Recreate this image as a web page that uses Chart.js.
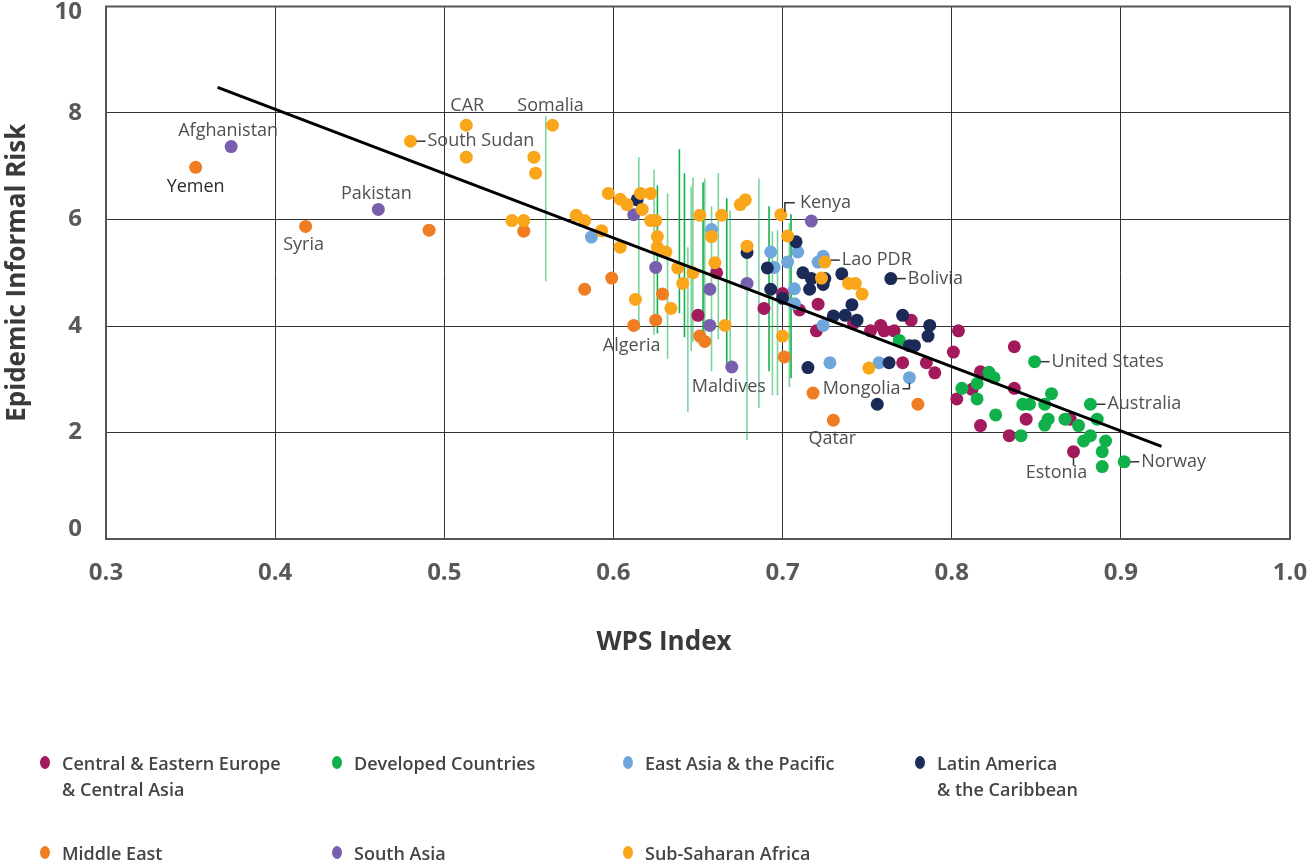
<!DOCTYPE html>
<html><head><meta charset="utf-8">
<script src="https://cdn.jsdelivr.net/npm/chart.js@4/dist/chart.umd.min.js"></script>
<style>
html,body{margin:0;padding:0;background:#fff;}
#wrap{position:relative;width:1309px;height:865px;overflow:hidden;}
#legend .item{position:absolute;font-family:'Open Sans',sans-serif;font-weight:600;font-size:18px;color:#444;line-height:26px;white-space:nowrap;}
#legend .dot{position:absolute;left:-22px;top:6px;width:10px;height:13px;border-radius:50%;}
</style></head><body>
<div id="wrap"><canvas id="c" width="1309" height="865"></canvas><div id="legend"></div></div>
<script>
// ---------- DATA ----------
const groupNames = ['Central & Eastern Europe\n& Central Asia','Developed Countries','East Asia & the Pacific','Latin America\n& the Caribbean','Middle East','South Asia','Sub-Saharan Africa'];

const centralEasternEurope = [[0.661,5.00],[0.650,4.20],[0.689,4.33],[0.700,4.61],[0.710,4.30],[0.721,4.41],[0.720,3.91],[0.742,4.05],[0.752,3.91],[0.758,4.01],[0.760,3.91],[0.766,3.91],[0.776,4.11],[0.771,3.31],[0.785,3.31],[0.790,3.12],[0.801,3.51],[0.804,3.91],[0.837,3.61],[0.817,3.14],[0.812,2.81],[0.803,2.63],[0.837,2.83],[0.817,2.13],[0.844,2.25],[0.834,1.94],[0.872,1.64],[0.870,2.25]];
const developedCountries = [[0.769,3.73],[0.849,3.33],[0.822,3.13],[0.825,3.03],[0.815,2.92],[0.806,2.83],[0.815,2.63],[0.826,2.33],[0.841,1.94],[0.859,2.73],[0.842,2.53],[0.846,2.53],[0.855,2.53],[0.882,2.53],[0.857,2.25],[0.855,2.14],[0.867,2.25],[0.875,2.13],[0.886,2.25],[0.882,1.94],[0.878,1.84],[0.891,1.84],[0.889,1.64],[0.889,1.36],[0.902,1.45]];
const eastAsiaPacific = [[0.587,5.67],[0.658,5.81],[0.693,5.39],[0.695,5.10],[0.703,5.20],[0.709,5.39],[0.707,4.70],[0.707,4.42],[0.721,5.20],[0.724,5.31],[0.724,4.01],[0.728,3.31],[0.757,3.31],[0.775,3.03]];
const latinAmerica = [[0.614,6.37],[0.679,5.38],[0.691,5.09],[0.693,4.69],[0.700,4.52],[0.708,5.58],[0.712,5.00],[0.717,4.89],[0.716,4.69],[0.725,4.89],[0.724,4.78],[0.735,4.98],[0.764,4.89],[0.741,4.40],[0.730,4.19],[0.737,4.20],[0.744,4.11],[0.715,3.22],[0.756,2.53],[0.763,3.31],[0.771,4.20],[0.775,3.63],[0.778,3.63],[0.787,4.01],[0.786,3.81]];
const middleEast = [[0.353,6.98],[0.418,5.87],[0.491,5.80],[0.547,5.78],[0.583,4.69],[0.599,4.90],[0.612,4.01],[0.629,4.60],[0.625,4.11],[0.651,3.81],[0.654,3.71],[0.701,3.42],[0.718,2.74],[0.730,2.23],[0.780,2.53]];
const southAsia = [[0.374,7.37],[0.461,6.19],[0.612,6.09],[0.625,5.10],[0.657,4.69],[0.679,4.80],[0.657,4.01],[0.670,3.23],[0.717,5.97]];
const subSaharanAfrica = [[0.480,7.47],[0.513,7.77],[0.513,7.17],[0.564,7.77],[0.553,7.17],[0.554,6.87],[0.540,5.98],[0.547,5.98],[0.578,6.08],[0.583,5.98],[0.593,5.79],[0.597,6.49],[0.604,6.38],[0.608,6.28],[0.604,5.48],[0.616,6.49],[0.617,6.19],[0.622,6.49],[0.622,5.98],[0.625,5.98],[0.626,5.68],[0.626,5.48],[0.631,5.39],[0.638,5.09],[0.647,5.00],[0.641,4.80],[0.613,4.50],[0.634,4.33],[0.651,6.08],[0.664,6.08],[0.658,5.68],[0.660,5.19],[0.675,6.28],[0.678,6.37],[0.679,5.50],[0.666,4.01],[0.699,6.09],[0.703,5.69],[0.725,5.20],[0.723,4.90],[0.739,4.80],[0.743,4.80],[0.747,4.60],[0.700,3.81],[0.751,3.21]];

// vertical range lines: x, upper, lower
const rangeX     = [0.560,0.615,0.624,0.626,0.632,0.639,0.642,0.644,0.646,0.647,0.653,0.654,0.658,0.662,0.667,0.669,0.679,0.686,0.692,0.694,0.697,0.704,0.705];
const rangeHigh  = [7.94,7.17,6.94,6.64,6.49,7.32,6.87,5.48,6.62,6.79,6.70,6.77,6.25,6.87,6.40,6.17,5.50,6.77,6.25,5.78,5.80,5.93,6.10];
const rangeLow   = [4.84,3.92,3.83,3.86,3.38,4.24,3.79,2.38,3.53,3.70,3.60,3.68,3.15,3.75,3.28,3.13,1.86,2.46,3.15,2.70,2.70,2.85,3.02];
const rangeDark  = [0,0,0,1,0,1,1,0,0,0,1,0,0,0,1,0,0,0,1,0,0,0,1];

// trend line endpoints
const trendX = [0.366, 0.924];
const trendY = [8.48, 1.74];

// labelled countries
const labelNames = ['Afghanistan','Yemen','Pakistan','Syria','South Sudan','CAR','Somalia','Kenya','Lao PDR','Bolivia','Algeria','Maldives','Mongolia','Qatar','United States','Australia','Estonia','Norway'];
const labelX = [0.374,0.353,0.461,0.418,0.480,0.513,0.564,0.699,0.725,0.764,0.612,0.670,0.775,0.730,0.849,0.882,0.872,0.902];
const labelY = [7.37,6.98,6.19,5.87,7.47,7.77,7.77,6.09,5.20,4.89,4.01,3.23,3.03,2.23,3.33,2.53,1.64,1.45];

const xTicks = [0.3,0.4,0.5,0.6,0.7,0.8,0.9,1.0];
const yTicks = [0,2,4,6,8,10];
const xTitle = 'WPS Index';
const yTitle = 'Epidemic Informal Risk';

// ---------- STYLE ----------
const groupColors = ['#a31a5c','#10b14b','#6fa7dc','#1c2a57','#f07d22','#775fad','#f9a61b'];
const groupData = [centralEasternEurope, developedCountries, eastAsiaPacific, latinAmerica, middleEast, southAsia, subSaharanAfrica];
// label placement: [type, dx, dy]
const labelPlace = {
  'Afghanistan':['above',-3,-16],'Yemen':['below',0,20],'Pakistan':['above',-2,-16],'Syria':['below',-2,18],
  'South Sudan':['right',0,0],'CAR':['above',1,-19],'Somalia':['above',-2,-19],'Kenya':['kenya',0,0],
  'Lao PDR':['right',0,-2],'Bolivia':['right',0,0],'Algeria':['below',-2,20],'Maldives':['below',-3,20],
  'Mongolia':['mongolia',0,0],'Qatar':['below',-1,19],'United States':['right',0,0],'Australia':['right',0,0],
  'Estonia':['estonia',0,0],'Norway':['right',0,0]
};

const datasets = [];
datasets.push({type:'scatter',label:'trend',data:trendX.map((x,i)=>({x,y:trendY[i]})),showLine:true,borderColor:'#000',borderWidth:3,pointRadius:0,order:0});
groupData.forEach((arr,gi)=>{
  datasets.push({type:'scatter',label:groupNames[gi],data:arr.map(p=>({x:p[0],y:p[1]})),backgroundColor:groupColors[gi],borderWidth:0,pointRadius:6.5,pointHoverRadius:6.5,order:8-gi});
});
function rangeData(dark){
  const d=[];
  rangeX.forEach((x,i)=>{ if(rangeDark[i]===dark){ d.push({x,y:rangeHigh[i]}); d.push({x,y:rangeLow[i]}); d.push({x,y:null}); } });
  return d;
}
datasets.push({type:'scatter',label:'rangeLight',data:rangeData(0),showLine:true,spanGaps:false,borderColor:'rgba(16,177,75,0.55)',borderWidth:1.6,pointRadius:0,order:20});
datasets.push({type:'scatter',label:'rangeDark',data:rangeData(1),showLine:true,spanGaps:false,borderColor:'#10b14b',borderWidth:1.6,pointRadius:0,order:19});

const frame = {
  id:'frame',
  beforeDraw(chart){
    const s = chart.scales.y;
    const items = s.getLabelItems();
    items.forEach(it=>{
      const t = it.options.translation;
      if (Math.abs(t[1]-chart.chartArea.bottom)<2) t[1] -= 10;
      else if (Math.abs(t[1]-chart.chartArea.top)<2) t[1] += 6;
    });
  },
  beforeDatasetsDraw(chart){
    const {ctx, chartArea:a} = chart;
    ctx.save();
    ctx.strokeStyle='#555'; ctx.lineWidth=2;
    ctx.strokeRect(a.left, a.top, a.right-a.left, a.bottom-a.top);
    ctx.restore();
  },
  afterDraw(chart){
    const {ctx} = chart;
    ctx.save();
    ctx.font = 'bold 26px "Open Sans"';
    ctx.fillStyle = '#3a3a3a';
    ctx.textAlign='center'; ctx.textBaseline='middle';
    ctx.fillText(xTitle, 664, 643);
    ctx.restore();
  },
  afterDatasetsDraw(chart){
    const {ctx} = chart; const xs=chart.scales.x, ys=chart.scales.y;
    ctx.save();
    ctx.font = '18px "Open Sans"';
    ctx.textBaseline='middle';
    ctx.strokeStyle='#333'; ctx.lineWidth=1.5;
    labelNames.forEach((name,i)=>{
      const px = xs.getPixelForValue(labelX[i]), py = ys.getPixelForValue(labelY[i]);
      const [type,dx,dy] = labelPlace[name];
      ctx.fillStyle = name==='Yemen' ? '#2b2b2b' : '#505050';
      if (type==='above' || type==='below'){
        ctx.textAlign='center'; ctx.fillText(name, px+dx, py+dy);
      } else if (type==='right'){
        ctx.beginPath(); ctx.moveTo(px+6, py+dy); ctx.lineTo(px+15, py+dy); ctx.stroke();
        ctx.textAlign='left'; ctx.fillText(name, px+17, py+dy);
      } else if (type==='kenya'){
        ctx.beginPath(); ctx.moveTo(px+4, py-3); ctx.lineTo(px+4, py-12); ctx.lineTo(px+14, py-12); ctx.stroke();
        ctx.textAlign='left'; ctx.fillText(name, px+19, py-12);
      } else if (type==='mongolia'){
        ctx.beginPath(); ctx.moveTo(px, py+5); ctx.lineTo(px, py+11); ctx.lineTo(px-7, py+11); ctx.stroke();
        ctx.textAlign='right'; ctx.fillText(name, px-9, py+11);
      } else if (type==='estonia'){
        ctx.beginPath(); ctx.moveTo(px, py+6); ctx.lineTo(px, py+14); ctx.stroke();
        ctx.textAlign='center'; ctx.fillText(name, px-17, py+21);
      }
    });
    ctx.restore();
  }
};

new Chart(document.getElementById('c'), {
  type:'scatter',
  data:{datasets},
  options:{
    responsive:false, animation:false, events:[],
    layout:{padding:{top:6,left:0,right:19,bottom:196}},
    plugins:{legend:{display:false},tooltip:{enabled:false}},
    scales:{
      x:{type:'linear',min:0.3,max:1.0,
        afterBuildTicks(s){ s.ticks = xTicks.map(v=>({value:v})); },
        afterFit(s){ s.height=130; s.paddingLeft=0; s.paddingRight=0; },
        ticks:{padding:20,color:'#595959',font:{family:'Open Sans',size:24,weight:'bold'},callback:v=>Number(v).toFixed(1),maxRotation:0,autoSkip:false},
        grid:{color:'#333',lineWidth:1,drawTicks:false},
        border:{display:false},
        title:{display:false,text:xTitle}
      },
      y:{type:'linear',min:0,max:10,
        afterBuildTicks(s){ s.ticks = yTicks.map(v=>({value:v})); },
        afterFit(s){ s.width=106; s.paddingTop=0; s.paddingBottom=0; },
        ticks:{padding:24,color:'#595959',font:{family:'Open Sans',size:24,weight:'bold'},autoSkip:false},
        grid:{color:'#333',lineWidth:1,drawTicks:false},
        border:{display:false},
        title:{display:true,text:yTitle,color:'#3a3a3a',font:{family:'Open Sans',size:26,weight:'bold'},padding:{top:2,bottom:0}}
      }
    }
  },
  plugins:[frame]
});

// HTML legend
const legendPos = [[62,750],[354,750],[645,750],[937,750],[62,840],[354,840],[645,840]];
const lg = document.getElementById('legend');
groupNames.forEach((n,i)=>{
  const d=document.createElement('div'); d.className='item';
  d.style.left=legendPos[i][0]+'px'; d.style.top=legendPos[i][1]+'px';
  const dot=document.createElement('span'); dot.className='dot'; dot.style.background=groupColors[i];
  d.appendChild(dot);
  n.split('\n').forEach((line,k)=>{ if(k) d.appendChild(document.createElement('br')); d.appendChild(document.createTextNode(line)); });
  lg.appendChild(d);
});
</script>
</body></html>
